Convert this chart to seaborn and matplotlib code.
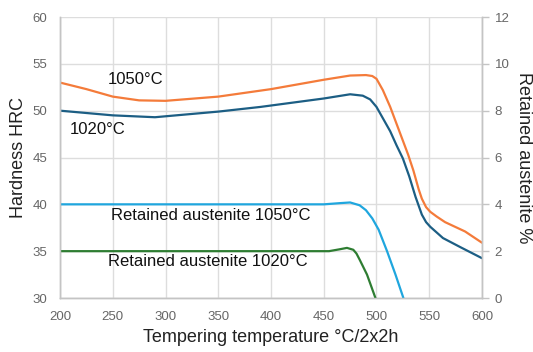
import matplotlib
matplotlib.use("Agg")
import matplotlib.pyplot as plt
import seaborn as sns
import pandas as pd

# ---- data ----
t_h1050 = [200, 225, 250, 275, 300, 350, 400, 450, 475, 490, 496, 500, 506, 513, 519, 525, 530, 535, 540, 543, 547, 551, 557, 565, 584, 600]
h_1050 = [53.0, 52.3, 51.5, 51.1, 51.05, 51.5, 52.3, 53.3, 53.75, 53.8, 53.7, 53.4, 52.2, 50.4, 48.6, 46.8, 45.3, 43.6, 41.6, 40.6, 39.7, 39.2, 38.7, 38.1, 37.1, 35.9]

t_h1020 = [200, 250, 290, 350, 390, 450, 475, 487, 494, 500, 506, 513, 519, 525, 531, 537, 543, 547, 551, 557, 563, 580, 600]
h_1020 = [50.0, 49.5, 49.3, 49.9, 50.4, 51.3, 51.75, 51.6, 51.2, 50.4, 49.2, 47.8, 46.3, 44.9, 43.0, 40.8, 38.9, 38.1, 37.6, 37.0, 36.4, 35.4, 34.25]

t_ra1050 = [200, 300, 400, 450, 465, 475, 484, 490, 496, 502, 510, 518, 525.5]
ra_1050 = [4.0, 4.0, 4.0, 4.0, 4.05, 4.08, 3.96, 3.75, 3.4, 2.92, 2.0, 1.0, 0.0]

t_ra1020 = [200, 300, 400, 455, 465, 472, 478, 481, 484, 491, 499]
ra_1020 = [2.0, 2.0, 2.0, 2.0, 2.08, 2.14, 2.06, 1.9, 1.64, 1.0, 0.0]

x_ticks = [200, 250, 300, 350, 400, 450, 500, 550, 600]
y_ticks_left = [30, 35, 40, 45, 50, 55, 60]
y_ticks_right = [0, 2, 4, 6, 8, 10, 12]

c_1050 = "#F47B3A"
c_1020 = "#1C5E84"
c_ra1050 = "#1FA6DE"
c_ra1020 = "#2E7D32"

sns.set_style("white")
plt.rcParams['font.family'] = ['Liberation Sans', 'DejaVu Sans']

fig, ax = plt.subplots(figsize=(5.33, 3.52), dpi=100)
fig.subplots_adjust(left=0.1126, right=0.9043, bottom=0.1534, top=0.9517)

df1 = pd.DataFrame({"T": t_h1050, "H": h_1050})
df2 = pd.DataFrame({"T": t_h1020, "H": h_1020})
sns.lineplot(data=df1, x="T", y="H", ax=ax, color=c_1050, linewidth=1.6)
sns.lineplot(data=df2, x="T", y="H", ax=ax, color=c_1020, linewidth=1.6)

ax2 = ax.twinx()
df3 = pd.DataFrame({"T": t_ra1050, "RA": ra_1050})
df4 = pd.DataFrame({"T": t_ra1020, "RA": ra_1020})
sns.lineplot(data=df3, x="T", y="RA", ax=ax2, color=c_ra1050, linewidth=1.6)
sns.lineplot(data=df4, x="T", y="RA", ax=ax2, color=c_ra1020, linewidth=1.6)

ax.set_xlim(200, 600)
ax.set_ylim(30, 60)
ax2.set_ylim(0, 12)
ax.set_xticks(x_ticks)
ax.set_yticks(y_ticks_left)
ax2.set_yticks(y_ticks_right)

ax.grid(True, color="#dddddd", linewidth=1)
ax.set_axisbelow(True)
ax2.grid(False)

for a in (ax, ax2):
    a.spines["top"].set_visible(False)
    for s in ("left", "bottom", "right"):
        a.spines[s].set_color("#c4c4c4")
        a.spines[s].set_linewidth(1)

ax.tick_params(axis="both", length=0, labelsize=9.5, labelcolor="#666666", pad=9)
ax2.tick_params(axis="y", length=5, width=1, color="#c4c4c4", labelsize=9.5, labelcolor="#666666", pad=4)

ax.set_xlabel("Tempering temperature °C/2x2h", fontsize=13, color="#222222", labelpad=5)
ax.set_ylabel("Hardness HRC", fontsize=13, color="#222222", labelpad=4)
ax2.set_ylabel("Retained austenite %", fontsize=13, color="#222222", rotation=270, va="bottom", labelpad=4)

lab_kw = dict(fontsize=12, color="#111111", ha="left", va="center")
ax.text(245.5, 53.28, "1050°C", **lab_kw)
ax.text(209.5, 47.94, "1020°C", **lab_kw)
ax.text(248.3, 38.76, "Retained austenite 1050°C", **lab_kw)
ax.text(245.5, 33.85, "Retained austenite 1020°C", **lab_kw)

fig.savefig("out.png", dpi=100)
